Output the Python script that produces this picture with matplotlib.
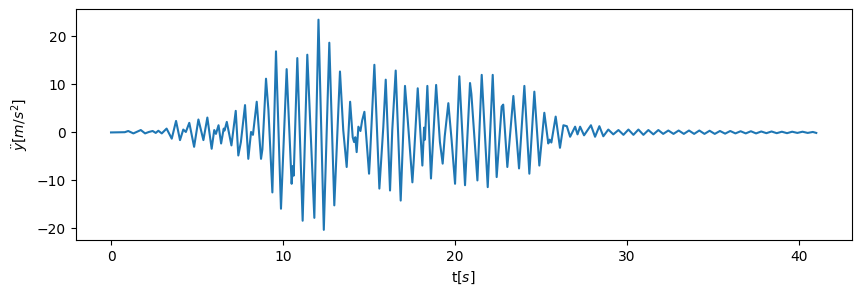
import matplotlib
matplotlib.use("Agg")
import matplotlib.pyplot as plt
import numpy as np

# peaks / troughs
t = [0.0, 0.8, 1.0, 1.3, 1.73, 1.98, 2.2, 2.42, 2.6, 2.75, 2.95, 3.23, 3.53, 3.78,
     4.01, 4.2, 4.35, 4.55, 4.83, 5.08, 5.37, 5.6, 5.85, 6.0, 6.1, 6.25, 6.4, 6.55,
     6.6, 6.73, 7.0, 7.25, 7.4, 7.55, 7.79, 7.98, 8.14, 8.25, 8.47, 8.72, 8.8, 9.01,
     9.15, 9.38, 9.59, 9.88, 10.21, 10.5, 10.57, 10.62, 10.83, 11.14, 11.41, 11.82,
     12.06, 12.37, 12.69, 12.98, 13.31, 13.5, 13.7, 13.9, 14.05, 14.13, 14.2, 14.28,
     14.38, 14.5, 14.6, 14.73, 15.0, 15.05, 15.31, 15.6, 15.83, 15.97, 16.22, 16.35,
     16.55, 16.84, 17.09, 17.25, 17.52, 17.6, 17.83, 18.1, 18.2, 18.25, 18.39, 18.6,
     18.9, 19.12, 19.28, 19.4, 19.61, 19.8, 20.0, 20.25, 20.58, 20.87, 20.95, 21.3,
     21.55, 21.9, 22.19, 22.42, 22.71, 22.8, 23.04, 23.39, 23.72, 24.03, 24.32, 24.61,
     24.9, 25.19, 25.42, 25.5, 25.6, 25.85, 26.1, 26.3, 26.5, 26.69, 26.98, 27.12,
     27.27, 27.5, 27.9, 28.14, 28.39, 28.62, 28.91, 29.2, 29.5, 29.79, 30.08, 30.37,
     30.66, 30.95, 31.24, 31.53, 31.82, 32.1, 32.4, 32.7, 33.0, 33.3, 33.6, 33.9,
     34.2, 34.5, 34.8, 35.1, 35.4, 35.7, 36.0, 36.3, 36.6, 36.9, 37.2, 37.5, 37.8,
     38.1, 38.4, 38.7, 39.0, 39.3, 39.6, 39.9, 40.2, 40.5, 40.8, 41.0]
acc = [0.0, 0.05, 0.3, -0.2, 0.5, -0.2, 0.1, 0.3, -0.1, 0.35, -0.2, 0.8, -1.3, 2.4,
       -1.6, 0.6, 0.1, 2.0, -3.0, 2.7, -1.6, 3.1, -3.4, 0.5, -0.3, 1.5, -2.3, 0.8,
       0.4, 2.2, -2.7, 4.5, -4.8, -2.0, 5.7, -5.5, 0.1, -0.5, 6.4, -5.5, -3.5, 11.2,
       4.7, -12.5, 16.9, -15.9, 13.2, -10.7, -7.0, -9.0, 15.5, -18.4, 16.2, -17.8,
       23.5, -20.3, 18.7, -15.2, 12.7, 0.5, -7.2, 6.4, -1.0, -2.0, -1.0, -4.1,
       1.2, 0.3, 2.5, 4.3, -8.6, -5.5, 14.1, -11.7, 1.2, 11.0, -12.1, 0.5,
       12.9, -14.2, 9.7, 2.6, -10.4, -5.8, 9.2, -6.9, 1.0, -1.5, 9.7, -9.6,
       9.9, -2.0, -6.5, -0.8, 6.1, -1.6, -10.7, 11.7, -11.0, 10.3, 8.0, -10.0,
       12.0, -11.4, 12.0, -9.3, 5.4, 5.8, -7.2, 7.6, -7.5, 9.7, -8.6, 8.5,
       -6.9, 4.1, -2.3, -1.5, -2.1, 3.3, -3.2, 1.5, 1.3, -0.9, 1.2, -0.4,
       1.2, -0.6, 1.5, -0.9, 1.3, -0.8, 0.6, -0.4, 0.5, -0.5, 0.6, -0.5,
       0.6, -0.5, 0.5, -0.4, 0.5, -0.3, 0.4, -0.3, 0.4, -0.3, 0.4, -0.3,
       0.4, -0.3, 0.35, -0.3, 0.3, -0.25, 0.3, -0.2, 0.25, -0.2, 0.25, -0.2, 0.2,
       -0.15, 0.2, -0.15, 0.15, -0.15, 0.15, -0.1, 0.15, -0.1, 0.1, -0.1]

fig = plt.figure(figsize=(8.61, 2.96), dpi=100)
ax = fig.add_axes([0.088, 0.188, 0.901, 0.781])
ax.plot(t, acc)
ax.set_xlabel('t[$s$]')
ax.set_ylabel(r'$\ddot{y}[m/s^2]$')
fig.savefig('out.png', dpi=100)
